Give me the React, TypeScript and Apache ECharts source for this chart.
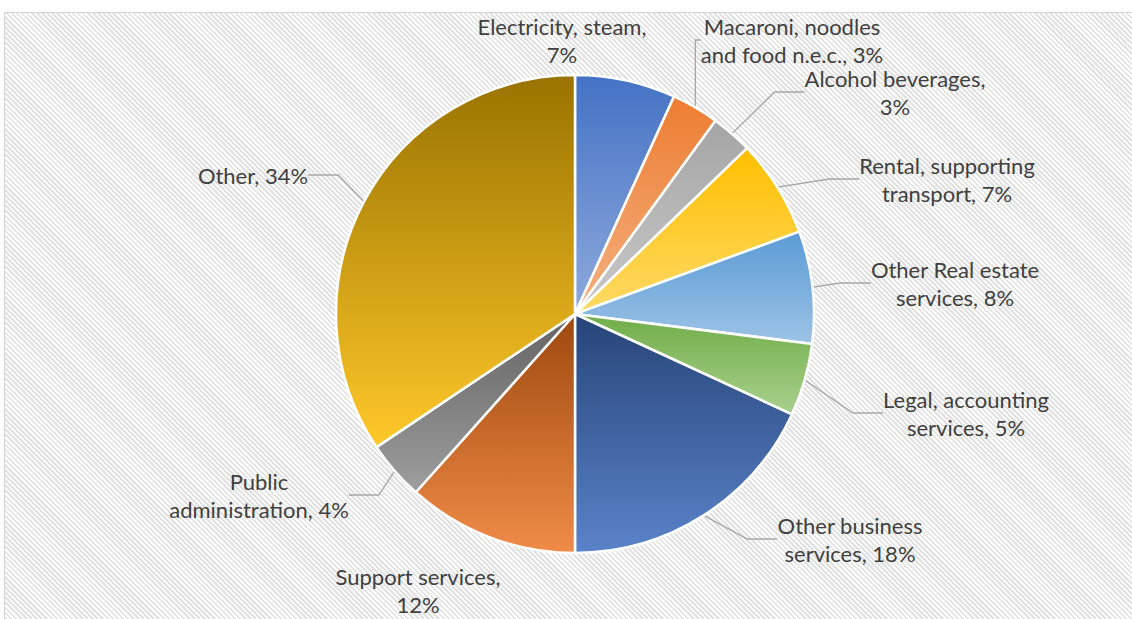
import React, { useEffect, useRef } from "react";
import * as echarts from "echarts";

const categories = [
  "Electricity, steam",
  "Macaroni, noodles\nand food n.e.c.",
  "Alcohol beverages",
  "Rental, supporting\ntransport",
  "Other Real estate\nservices",
  "Legal, accounting\nservices",
  "Other business\nservices",
  "Support services",
  "Public\nadministration",
  "Other",
];
const shares = [6.8, 3.2, 2.8, 6.6, 7.6, 4.9, 18.1, 11.6, 4.0, 34.4];
// break before the percent on these labels
const breakBeforePct = [true, false, true, false, false, false, false, true, false, false];
// gradient colours: top -> bottom
const topColors = ["#4472C4", "#ED7D31", "#A5A5A5", "#FFC000", "#5B9BD5", "#70AD47", "#264478", "#9E480E", "#636363", "#997300"];
const bottomColors = ["#8FAADC", "#F4B183", "#C9C9C9", "#FFD966", "#9DC3E6", "#A9D18E", "#5B83C9", "#F08C48", "#9E9E9E", "#FFC82A"];
// label centres (layout)
const labelCenters: [number, number][] = [
  [562, 40], [792, 40], [895, 92], [947, 179], [955, 283],
  [966, 413], [850, 539], [418, 590], [259, 495], [253, 175],
];
const hideLine = [true, false, false, false, false, false, false, true, false, false];

export default function App() {
  const ref = useRef<HTMLDivElement>(null);
  useEffect(() => {
    if (!ref.current) return;
    const chart = echarts.init(ref.current, undefined, { renderer: "svg" });
    const data = categories.map((name, i) => ({
      name,
      value: shares[i],
      itemStyle: {
        color: new echarts.graphic.LinearGradient(0, 0, 0, 1, [
          { offset: 0, color: topColors[i] },
          { offset: 1, color: bottomColors[i] },
        ]),
      },
      labelLine: { show: !hideLine[i] },
    }));
    chart.setOption({
      animation: false,
      backgroundColor: "transparent",
      series: [
        {
          type: "pie",
          center: [575, 314],
          radius: 239,
          startAngle: 90,
          clockwise: true,
          avoidLabelOverlap: false,
          data,
          itemStyle: { borderColor: "#ffffff", borderWidth: 2.5 },
          label: {
            show: true,
            position: "outside",
            color: "#404040",
            fontFamily: "Lato",
            fontSize: 22,
            lineHeight: 28,
            align: "center",
            formatter: (p: any) => {
              const i = p.dataIndex;
              const pct = Math.round(shares[i]) + "%";
              return p.name + (breakBeforePct[i] ? ",\n" : ", ") + pct;
            },
          },
          labelLine: {
            show: true,
            lineStyle: { color: "#A6A6A6", width: 1.3 },
          },
          labelLayout: (params: any) => {
            const c = labelCenters[params.dataIndex];
            return { x: c[0], y: c[1], align: "center", verticalAlign: "middle" };
          },
        },
      ],
    });
    return () => chart.dispose();
  }, []);
  return (
    <div style={{ position: "fixed", left: 0, top: 0, width: 1132, height: 619, background: "#ffffff", overflow: "hidden" }}>
      <div
        style={{
          position: "absolute",
          left: 4,
          top: 12,
          width: 1200,
          height: 700,
          border: "1px solid #d4d4d4",
          background: "repeating-linear-gradient(45deg, #ffffff 0px, #ffffff 1.8px, #e2e2e2 1.8px, #e2e2e2 3.6px)",
        }}
      />
      <div ref={ref} style={{ position: "absolute", left: 0, top: 0, width: 1132, height: 619 }} />
    </div>
  );
}
